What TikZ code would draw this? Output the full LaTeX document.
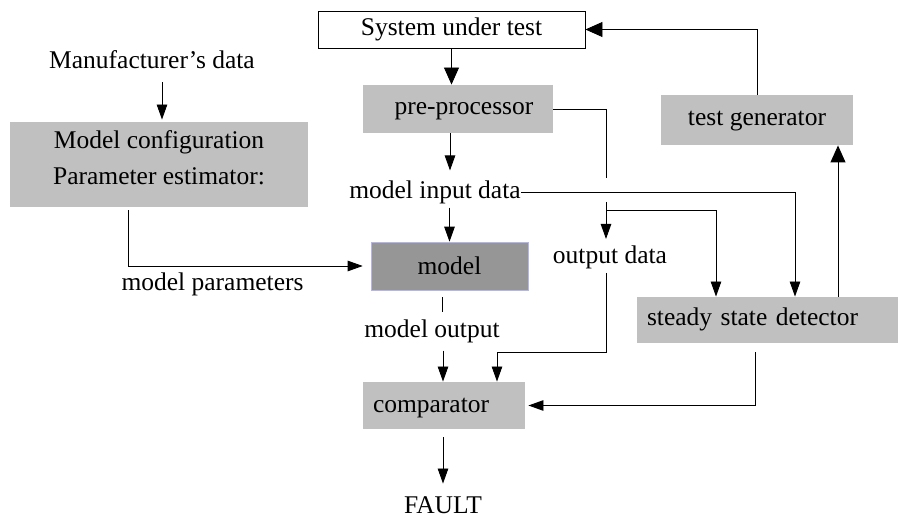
\documentclass[tikz,border=0pt]{standalone}
\usepackage{fontspec}
\setmainfont{Liberation Serif}
\usetikzlibrary{arrows.meta}
\definecolor{boxgray}{HTML}{C0C0C0}
\definecolor{modelgray}{HTML}{969696}
\definecolor{modelrim}{HTML}{B4B4F0}

\begin{document}
\begin{tikzpicture}[x=1pt, y=-1pt,
  font=\fontsize{25.5}{36.5}\selectfont,
  strut/.style={text height=17.6pt, text depth=5.6pt},
  box/.style={strut, fill=boxgray, inner sep=0pt},
  lbl/.style={strut, inner sep=0pt},
  arr/.style={-{Triangle[length=15pt,width=10.5pt]}},
  bigarr/.style={-{Triangle[length=17pt,width=15pt]}},
  every path/.style={line width=0.9pt}]
  \useasboundingbox (0,0) rectangle (900,518);
  % left column
  \node[lbl] (mfr) at (152,63) {Manufacturer's data};
  \node[fill=boxgray, inner sep=0pt, minimum width=298, minimum height=85, align=center, text depth=14pt] (cfg) at (159,164.5) {Model configuration\\Parameter estimator:};
  \node[lbl] (par) at (212.5,285) {model parameters};
  % middle column
  \node[strut, draw, fill=white, minimum width=267, minimum height=37, inner sep=0pt] (sut) at (451.5,29.5) {System under test};
  \node[box, minimum width=190, minimum height=48] (pre) at (458,109) {\hspace{12pt}pre-processor};
  \node[lbl] (in) at (435,192.5) {model input data};
  \node[fill=modelgray, draw=modelrim, line width=0.6pt, text height=20pt, text depth=2pt, inner sep=0pt, minimum width=157, minimum height=48] (model) at (449.5,266) {model};
  \node[lbl] (mout) at (432,332) {model output};
  \node[box, text width=142pt, inner xsep=10pt, minimum height=47, align=left, text height=19pt, text depth=4.2pt] (cmp) at (444,405.5) {comparator};
  \node[lbl] (fault) at (443,507) {FAULT};
  % right column
  \node[lbl] (out) at (610,257.5) {output data};
  \node[box, minimum width=192, minimum height=50] (tg) at (757,120) {test generator};
  \node[box, text width=241pt, inner xsep=10pt, minimum height=46, align=left] (ssd) at (767.5,320) {steady state detector};
  % output data line
  \coordinate (odTop) at (606,178);
  \coordinate (odMid) at (606,202);
  \coordinate (split) at (606,210);
  \coordinate (odLow) at (606,273);
  \coordinate (odBend) at (606,352);
  % arrows
  \draw[arr] ([yshift=-7.4,xshift=10]mfr.south) -- ([yshift=2]cfg.north -| 162,0);
  \draw[arr] ([xshift=-31,yshift=-3]cfg.south) |- ([xshift=-8]model.west);
  \draw[bigarr] (sut.south) -- (sut.south |- pre.north);
  \draw[arr] ([xshift=-8]pre.south) -- ++(0,37);
  \draw[arr] ([yshift=-3]in.south -| model.north) -- (model.north);
  \draw (pre.east) -| (odTop);
  \draw[arr] (in.east) -| ([xshift=27.5]ssd.north);
  \draw[arr] (odMid) -- ([yshift=6.5]out.north -| odMid);
  \draw[arr] (split) -| ([xshift=-51.5]ssd.north);
  \draw[arr] (odLow) -- (odBend) -| ([xshift=53]cmp.north);
  \draw[arr] ([xshift=-12.5,yshift=-9]ssd.south) |- ([xshift=3]cmp.east);
  \draw[bigarr] ([xshift=70.5]ssd.north) -- ([xshift=70.5]ssd.north |- tg.south);
  \draw[bigarr] (tg.north) |- (sut.east);
  \draw ([xshift=-7.5,yshift=-7]model.south) -- ++(0,15);
  \draw[arr] ([yshift=-6.5]mout.south -| fault) -- (fault |- cmp.north);
  \draw[arr] ([yshift=-8]cmp.south -| fault) -- ([yshift=11.4]fault.north);
\end{tikzpicture}
\end{document}
